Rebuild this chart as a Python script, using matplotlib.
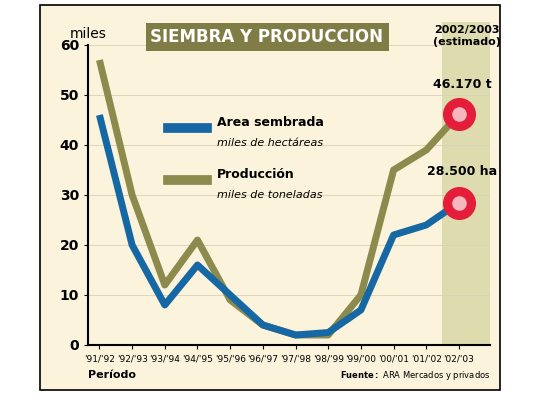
import matplotlib.pyplot as plt
from matplotlib.patches import Rectangle

periods = ["'91/'92","'92/'93","'93/'94","'94/'95","'95/'96","'96/'97","'97/'98","'98/'99","'99/'00","'00/'01","'01/'02","'02/'03"]
area = [46, 20, 8, 16, 10, 4, 2, 2.5, 7, 22, 24, 28.5]
produccion = [57, 30, 12, 21, 9, 4, 2, 2, 10, 35, 39, 46.17]
yticks = [0, 10, 20, 30, 40, 50, 60]

fig = plt.figure(figsize=(5.4, 4.05), dpi=100)
fig.patch.set_facecolor('white')
fig.patches.append(Rectangle((40/540, 15/405), 460/540, 385/405, transform=fig.transFigure,
                             facecolor='#fbf3dc', edgecolor='black', lw=1.2, zorder=-5))
fig.patches.append(Rectangle((442/540, 60/405), 48/540, 323/405, transform=fig.transFigure,
                             facecolor='#dedcae', edgecolor='none', zorder=-4))
ax = fig.add_axes([88/540, 60/405, 402/540, 300/405])
ax.set_facecolor('none')
x = list(range(len(periods)))
ax.set_xlim(-0.35, 11.95)
ax.set_ylim(0, 60)
for t in yticks:
    ax.axhline(t, color='#d9d2b8', lw=0.6, zorder=1)
ax.plot(x, produccion, color='#8c8a4c', lw=5, solid_capstyle='butt', zorder=3)
ax.plot(x, area, color='#1668a4', lw=5, solid_capstyle='butt', zorder=4)
for v in (produccion[-1], area[-1]):
    ax.scatter([x[-1]], [v], s=520, color='#e41e3a', zorder=5)
    ax.scatter([x[-1]], [v], s=90, color='#f7b7bf', zorder=6)
ax.set_xticks(x)
ax.set_xticklabels(periods, fontsize=6.5)
ax.set_yticks(yticks)
ax.set_yticklabels([str(t) for t in yticks], fontsize=10, fontweight='bold')
for s in ['top', 'right']:
    ax.spines[s].set_visible(False)
ax.spines['left'].set_linewidth(1.5)
ax.spines['bottom'].set_linewidth(1.5)
ax.tick_params(length=3)

ax.text(-0.9, 61.5, 'miles', fontsize=10, ha='left')
fig.text(267/540, 368/405, 'SIEMBRA Y PRODUCCION', fontsize=12, fontweight='bold', color='white',
         ha='center', va='center', bbox=dict(boxstyle='square,pad=0.3', fc='#7f7d45', ec='none'))
ax.text(11.25, 64, '2002/2003\n(estimado)', fontsize=8, fontweight='bold', ha='center', va='top')
ax.text(11.1, 51.5, '46.170 t', fontsize=9, fontweight='bold', ha='center')
ax.text(11.1, 34, '28.500 ha', fontsize=9, fontweight='bold', ha='center')
ax.plot([2.1, 3.3], [43.5, 43.5], color='#1668a4', lw=7)
ax.text(3.6, 44.5, 'Area sembrada', fontsize=9, fontweight='bold', va='center')
ax.text(3.6, 40.5, 'miles de hectáreas', fontsize=8, style='italic', va='center')
ax.plot([2.1, 3.3], [33, 33], color='#8c8a4c', lw=7)
ax.text(3.6, 34, 'Producción', fontsize=9, fontweight='bold', va='center')
ax.text(3.6, 30, 'miles de toneladas', fontsize=8, style='italic', va='center')
fig.text(88/540, 27/405, 'Período', fontsize=8, fontweight='bold')
fig.text(490/540, 27/405, r'$\bf{Fuente:}$ ARA Mercados y privados', fontsize=6, ha='right')
fig.savefig('out.png', dpi=100)
